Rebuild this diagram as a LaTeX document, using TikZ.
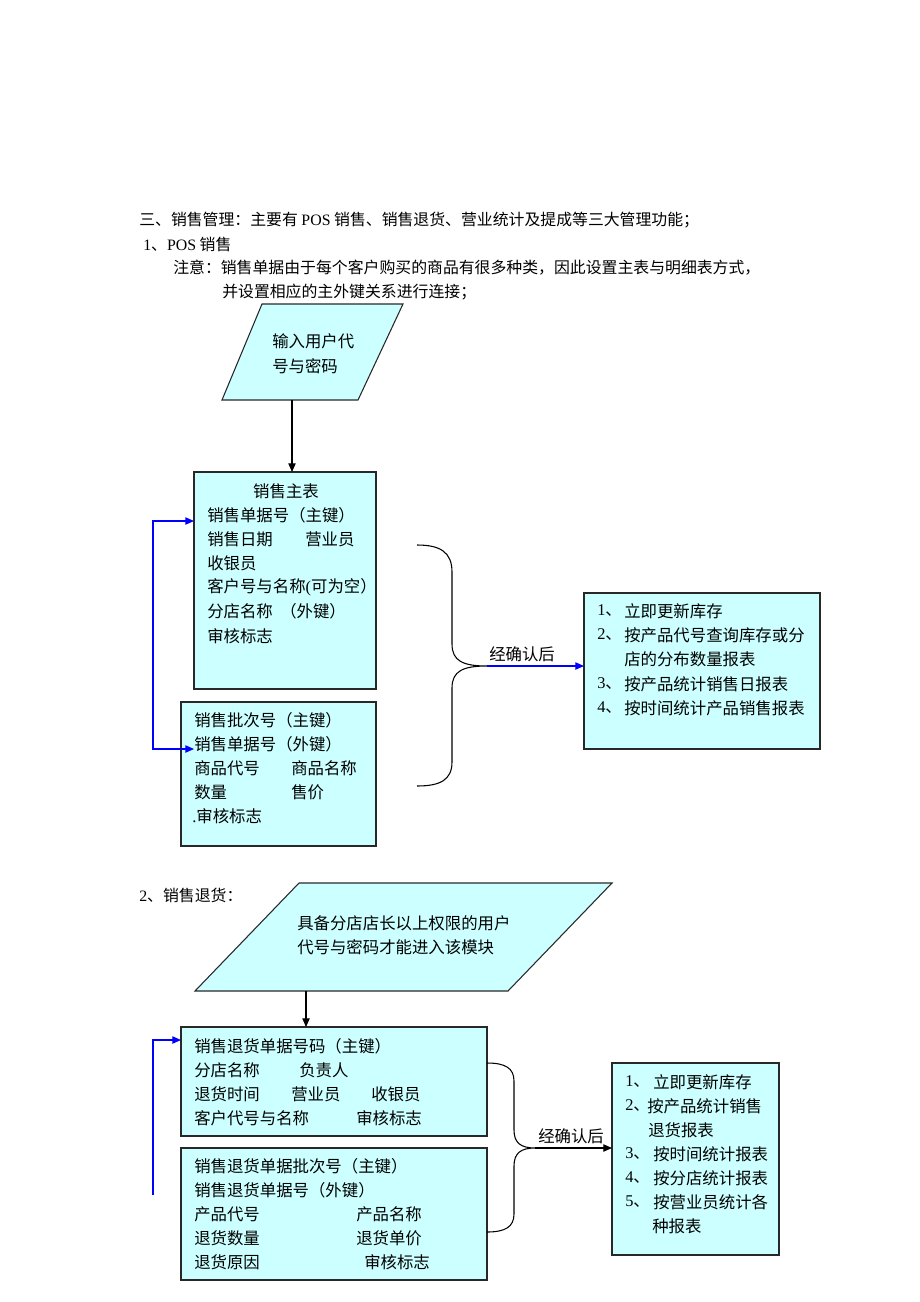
\documentclass[tikz,border=0pt]{standalone}
\usepackage{fontspec}
\setmainfont{Noto Sans CJK SC}
\newfontfamily\latf{Liberation Serif}
\newcommand\lat[1]{{\latf #1}}
\usetikzlibrary{arrows.meta}
\definecolor{boxfill}{RGB}{204,255,255}
\definecolor{boxline}{RGB}{40,40,40}
\tikzset{
  box/.style={draw=boxline,line width=0.8pt,fill=boxfill,inner sep=0pt,outer sep=0pt},
  t/.style={anchor=west,inner sep=0pt,font=\fontsize{12.3pt}{14pt}\selectfont},
  h/.style={anchor=west,inner sep=0pt,font=\fontsize{11.9pt}{14pt}\selectfont},
  arr/.style={line width=0.8pt,-{Triangle[length=6.5pt,width=5.5pt]}},
  barr/.style={line width=0.8pt,draw=blue,{Triangle[length=6.5pt,width=5.5pt]}-{Triangle[length=6.5pt,width=5.5pt]}},
  barr1/.style={line width=0.8pt,draw=blue,-{Triangle[length=6.5pt,width=5.5pt]}},
  brace/.style={line width=0.8pt,draw=black}
}
\newcommand\bx[5]{\node[box,minimum width={(#4-#2)*0.75pt},minimum height={(#5-#3)*0.75pt}] (#1) at ({(#2+#4)/2},{(#3+#5)/2}) {};}
\begin{document}
\begin{tikzpicture}[x=0.75pt,y=-0.75pt]
\useasboundingbox[fill=white] (0,0) rectangle (920,1302);

% header
\node[h] (h1) at (139,220) {三、销售管理：主要有 \lat{POS} 销售、销售退货、营业统计及提成等三大管理功能；};
\node[h] (h2) at (143,244) {\lat{1}、\lat{POS} 销售};
\node[h] (h3) at (173,268) {注意：销售单据由于每个客户购买的商品有很多种类，因此设置主表与明细表方式，};
\node[h] (h4) at (222,292) {并设置相应的主外键关系进行连接；};

% parallelogram 1
\fill[boxfill] (262,304) -- (403,304) -- (358,400) -- (222,400) -- cycle;
\draw[boxline,line width=0.8pt] (262,304) -- (403,304) -- (358,400) -- (222,400) -- cycle;
\coordinate (p1b) at (292,400);
\node[t] (p1t1) at (272,341) {输入用户代};
\node[t] (p1t2) at (272,366) {号与密码};

% box 1
\bx{b1}{194}{472}{376}{689}
\node[t,anchor=center] (b1t0) at (286,491) {销售主表};
\node[t] (b1t1) at (207,515) {销售单据号（主键）};
\node[t] (b1t2) at (207,539) {销售日期};
\node[t] (b1t2b) at (305,539) {营业员};
\node[t] (b1t3) at (207,563) {收银员};
\node[t] (b1t4) at (207,587) {客户号与名称\lat{(}可为空）};
\node[t] (b1t5) at (207,611) {分店名称};
\node[t] (b1t5b) at (280,611) {（外键）};
\node[t] (b1t6) at (207,636) {审核标志};

% box 2
\bx{b2}{181}{702}{376}{846}
\node[t] (b2t1) at (194,720) {销售批次号（主键）};
\node[t] (b2t2) at (194,744) {销售单据号（外键）};
\node[t] (b2t3) at (194,768) {商品代号};
\node[t] (b2t3b) at (291,768) {商品名称};
\node[t] (b2t4) at (194,792) {数量};
\node[t] (b2t4b) at (291,792) {售价};
\node[t] (b2t5) at (192,816) {\lat{.}审核标志};

\draw[arr] (p1b) -- (p1b |- b1.north);

% blue link 1
\coordinate (a1) at (194,749);
\coordinate (a2) at (194,521);
\draw[barr] (a1) -- (153,749) -- (153,521) -- (a2);

% brace 1
\coordinate (br1top) at (417,545);
\coordinate (br1tip) at (487,666);
\coordinate (br1bot) at (417,786);
\draw[brace] (br1top) .. controls (440,545) and (452,552) .. (452,572) -- (452,644) .. controls (452,661) and (463,666) .. (br1tip) .. controls (463,666) and (452,671) .. (452,688) -- (452,762) .. controls (452,780) and (440,786) .. (br1bot);

% box 3
\bx{b3}{584}{593}{820}{749}
\draw[barr1] (br1tip) -- (br1tip -| b3.west);
\node[t] (l1) at (489,654) {经确认后};
\node[t] (b3n1) at (597,611) {\lat{1}、};
\node[t] (b3t1) at (624,611) {立即更新库存};
\node[t] (b3n2) at (597,635) {\lat{2}、};
\node[t] (b3t2) at (624,635) {按产品代号查询库存或分};
\node[t] (b3t2b) at (624,659) {店的分布数量报表};
\node[t] (b3n3) at (597,684) {\lat{3}、};
\node[t] (b3t3) at (624,684) {按产品统计销售日报表};
\node[t] (b3n4) at (597,708) {\lat{4}、};
\node[t] (b3t4) at (624,708) {按时间统计产品销售报表};

% section 2
\node[h] (s2) at (139,895) {\lat{2}、销售退货：};
\fill[boxfill] (299,883) -- (612,883) -- (508,991) -- (195,991) -- cycle;
\draw[boxline,line width=0.8pt] (299,883) -- (612,883) -- (508,991) -- (195,991) -- cycle;
\coordinate (p2b) at (306,991);
\node[t] (p2t1) at (297,923) {具备分店店长以上权限的用户};
\node[t] (p2t2) at (297,947) {代号与密码才能进入该模块};

% box 4
\bx{b4}{181}{1027}{487}{1136}
\draw[arr] (p2b) -- (p2b |- b4.north);
\node[t] (b4t1) at (194,1046) {销售退货单据号码（主键）};
\node[t] (b4t2) at (194,1070) {分店名称};
\node[t] (b4t2b) at (299,1070) {负责人};
\node[t] (b4t3) at (194,1094) {退货时间};
\node[t] (b4t3b) at (291,1094) {营业员};
\node[t] (b4t3c) at (371,1094) {收银员};
\node[t] (b4t4) at (194,1118) {客户代号与名称};
\node[t] (b4t4b) at (356,1118) {审核标志};

% box 5
\bx{b5}{181}{1148}{487}{1280}
\node[t] (b5t1) at (194,1166) {销售退货单据批次号（主键）};
\node[t] (b5t2) at (194,1190) {销售退货单据号（外键）};
\node[t] (b5t3) at (194,1214) {产品代号};
\node[t] (b5t3b) at (356,1214) {产品名称};
\node[t] (b5t4) at (194,1238) {退货数量};
\node[t] (b5t4b) at (356,1238) {退货单价};
\node[t] (b5t5) at (194,1262) {退货原因};
\node[t] (b5t5b) at (364,1262) {审核标志};

% blue link 2
\coordinate (lb) at (153,1195);
\coordinate (b4in) at (181,1040);
\draw[barr1] (lb) |- (b4in);

% brace 2
\coordinate (br2top) at (487,1063);
\coordinate (br2tip) at (535,1148);
\coordinate (br2bot) at (487,1232);
\draw[brace] (br2top) .. controls (505,1063) and (514,1068) .. (514,1081) -- (514,1130) .. controls (514,1143) and (521,1148) .. (br2tip) .. controls (521,1148) and (514,1153) .. (514,1166) -- (514,1214) .. controls (514,1227) and (505,1232) .. (br2bot);

% box 6
\bx{b6}{612}{1063}{779}{1255}
\draw[arr] (br2tip) -- (br2tip -| b6.west);
\node[t] (l2) at (538,1136) {经确认后};
\node[t] (b6n1) at (625,1082) {\lat{1}、};
\node[t] (b6t1) at (653,1082) {立即更新库存};
\node[t] (b6n2) at (625,1106) {\lat{2}、};
\node[t] (b6t2) at (647,1106) {按产品统计销售};
\node[t] (b6t2b) at (648,1130) {退货报表};
\node[t] (b6n3) at (625,1154) {\lat{3}、};
\node[t] (b6t3) at (653,1154) {按时间统计报表};
\node[t] (b6n4) at (625,1178) {\lat{4}、};
\node[t] (b6t4) at (653,1178) {按分店统计报表};
\node[t] (b6n5) at (625,1202) {\lat{5}、};
\node[t] (b6t5) at (653,1202) {按营业员统计各};
\node[t] (b6t5b) at (652,1226) {种报表};
\end{tikzpicture}
\end{document}
